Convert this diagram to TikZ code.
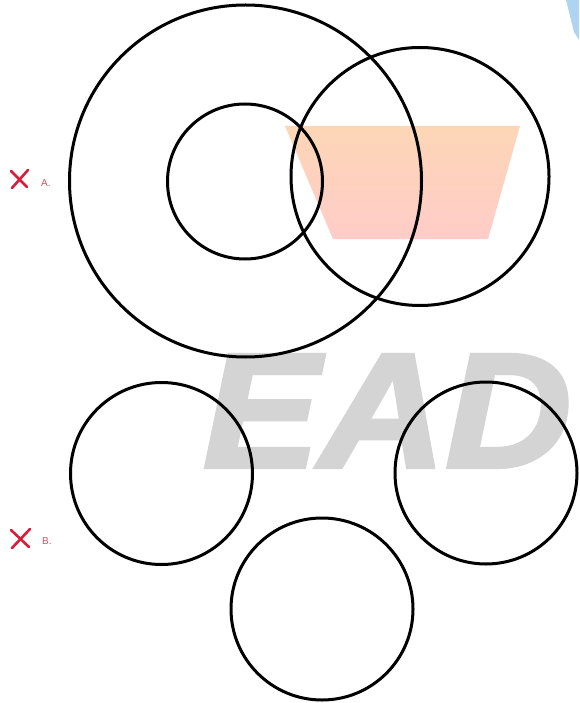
\documentclass[tikz,border=0pt]{standalone}
\usepackage{fontspec}
\setmainfont{Liberation Sans}
\newfontfamily\wmfont[FakeBold=2.5]{Liberation Sans Bold Italic}
\begin{document}
\begin{tikzpicture}[x=1pt,y=-1pt,
  ring/.style={circle,draw=black,line width=3pt,inner sep=0pt,outer sep=0pt},
  crossmark/.style={draw=xred,line width=2.6pt,line cap=round},
  optlabel/.style={text=xred!80,font=\fontsize{10}{10}\selectfont,inner sep=0pt,anchor=west}]
\definecolor{xred}{RGB}{212,30,60}
\definecolor{wgray}{RGB}{212,212,212}
\definecolor{peach}{RGB}{253,214,182}
\definecolor{pinkish}{RGB}{255,204,200}
\definecolor{skyb}{RGB}{175,212,242}
\useasboundingbox (0,0) rectangle (579,703);
\fill[white] (0,0) rectangle (579,703);
% blue corner
\fill[skyb] (566,0) -- (579,0) -- (579,40) -- (574,32) -- cycle;
% watermark
\node[anchor=base west,inner sep=0pt,text=wgray,xscale=1.07,font=\fontsize{163}{163}\wmfont] (wm) at (203,467) {EAD};
% trapezoid
\shade[top color=peach,bottom color=pinkish] (285,126) -- (520,126) -- (488,239) -- (333,239) -- cycle;
% A figure
\node[ring,minimum size=352pt] (big) at (245.5,181) {};
\node[ring,minimum size=155pt] (inner) at (245,181.5) {};
\node[ring,minimum size=258pt] (right) at (420,176.5) {};
% B figure
\node[ring,minimum size=182pt] (bl) at (161.5,473.5) {};
\node[ring,minimum size=182pt] (br) at (486,473) {};
\node[ring,minimum size=182pt] (bb) at (322,609) {};
% marks
\coordinate (xa1) at (11,171); \coordinate (xa2) at (27,187);
\coordinate (xa3) at (28,170); \coordinate (xa4) at (12,188);
\draw[crossmark] (xa1) -- (xa2);
\draw[crossmark] (xa3) -- (xa4);
\node[optlabel] (la) at (41,183) {A.};
\coordinate (xb1) at (11,530); \coordinate (xb2) at (29,547);
\coordinate (xb3) at (30,529); \coordinate (xb4) at (12,548);
\draw[crossmark] (xb1) -- (xb2);
\draw[crossmark] (xb3) -- (xb4);
\node[optlabel] (lb) at (42,541) {B.};
\end{tikzpicture}
\end{document}
